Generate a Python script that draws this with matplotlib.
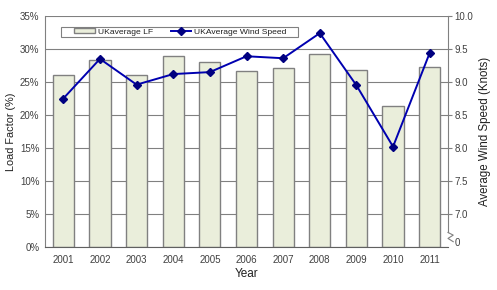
import numpy as np
import matplotlib
matplotlib.use("Agg")
from matplotlib import pyplot as plt
from matplotlib.patches import Rectangle

plt.rcParams['font.family'] = ['Liberation Sans', 'DejaVu Sans']

anos = ['2001', '2002', '2003', '2004', '2005', '2006', '2007', '2008', '2009', '2010', '2011']
load_factor = [26.0, 28.3, 26.0, 29.0, 28.0, 26.7, 27.1, 29.3, 26.8, 21.4, 27.2]
vento = [8.75, 9.35, 8.96, 9.12, 9.15, 9.39, 9.36, 9.74, 8.95, 8.02, 9.44]

cinza = '#808080'
texto = '#404040'

fig = plt.figure(figsize=(4.97, 2.90), dpi=100)
ax = fig.add_axes([45/497, 43/290, 403/497, 231/290])
x = np.arange(len(anos))

ax.set_axisbelow(True)
ax.grid(axis='y', color=cinza, lw=0.8)
barras = ax.bar(x, load_factor, width=0.58, color='#EAEEDB', edgecolor=cinza, lw=1.0,
                label='UKaverage LF')
ax.set_xlim(-0.5, len(anos) - 0.5)
ax.set_ylim(0, 35)
ax.set_yticks(range(0, 36, 5))
ax.set_yticklabels([f'{v}%' for v in range(0, 36, 5)])
ax.set_xticks(x)
ax.set_xticklabels(anos)
ax.tick_params(axis='both', length=0, labelsize=7, colors=texto, pad=6)
ax.tick_params(axis='y', pad=4)
for s in ['top', 'right']:
    ax.spines[s].set_visible(False)
ax.spines['left'].set_color(cinza)
ax.spines['bottom'].set_color('#606060')
ax.set_ylabel('Load Factor (%)', fontsize=7.8, color='#202020', labelpad=3)
ax.set_xlabel('Year', fontsize=8.5, color='#202020', labelpad=2)

ax2 = ax.twinx()
linha, = ax2.plot(x, vento, color='#0000B0', lw=1.4, marker='D', markersize=4,
                  markerfacecolor='#000080', markeredgecolor='#000080',
                  label='UKAverage Wind Speed')
ax2.set_ylim(6.5, 10.0)
ax2.set_yticks([6.58, 7.0, 7.5, 8.0, 8.5, 9.0, 9.5, 10.0])
ax2.set_yticklabels(['0', '7.0', '7.5', '8.0', '8.5', '9.0', '9.5', '10.0'])
ax2.tick_params(axis='y', length=3, color=cinza, labelsize=7, colors=texto, pad=1.5)
ax2.get_yticklines()[0].set_visible(False)
ax2.get_yticklines()[1].set_visible(False)
for s in ['top', 'left', 'bottom']:
    ax2.spines[s].set_visible(False)
ax2.spines['right'].set_color(cinza)
ax2.spines['right'].set_bounds(6.72, 10.0)
# quebra do eixo
ax2.plot([1.0, 1.013, 1.0, 1.013], [6.72, 6.68, 6.63, 6.58], transform=ax2.get_yaxis_transform(),
         color=cinza, lw=0.8, clip_on=False)
ax2.set_ylabel('Average Wind Speed (Knots)', fontsize=8.3, color='#202020', labelpad=4)

# caixa da legenda
ax.add_patch(Rectangle((0.0397, 0.909), 0.588, 0.043, transform=ax.transAxes,
                       facecolor='white', edgecolor=cinza, lw=0.8, zorder=5))
leg = ax.legend([barras, linha], ['UKaverage LF', 'UKAverage Wind Speed'], ncol=2,
                loc='center', bbox_to_anchor=(0.336, 0.931), fontsize=6.1,
                frameon=False, handlelength=2.4, handleheight=0.5, borderpad=0,
                columnspacing=2.1, handletextpad=0.35)
leg.set_zorder(6)
for t in leg.get_texts():
    t.set_color('#202020')

fig.savefig('out.png', dpi=100)
